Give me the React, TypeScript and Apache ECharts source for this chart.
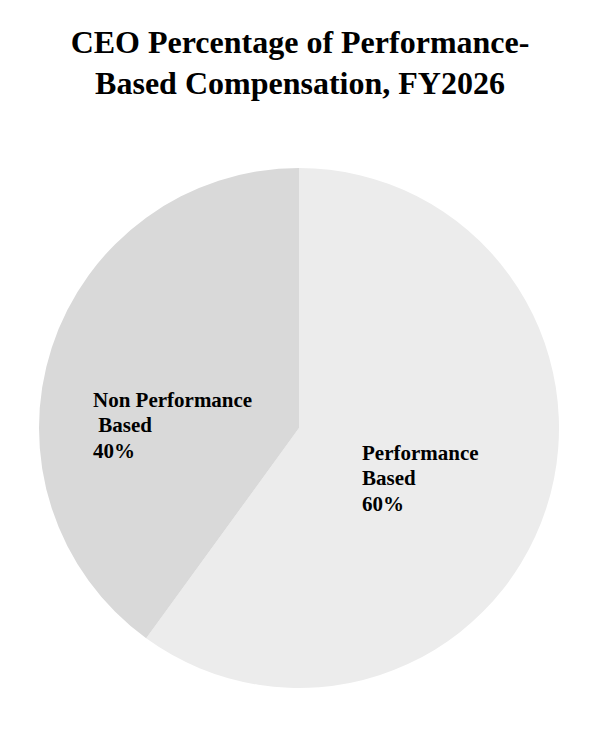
import React, { useEffect, useRef } from "react";
import * as echarts from "echarts";

const titleText = "CEO Percentage of Performance-\nBased Compensation, FY2026";
const categories = ["Performance\nBased", "Non Performance\n Based"];
const values = [60, 40];
const colors = ["#ececec", "#d9d9d9"];
const labelPos = [
  { x: 362, y: 440 },
  { x: 93, y: 387 },
];

export default function App() {
  const ref = useRef<HTMLDivElement>(null);
  useEffect(() => {
    if (!ref.current) return;
    const chart = echarts.init(ref.current, null, { renderer: "svg" });
    chart.setOption({
      animation: false,
      backgroundColor: "#ffffff",
      title: {
        text: titleText,
        left: "center",
        top: 16,
        textStyle: {
          fontFamily: "Liberation Serif",
          fontWeight: "bold",
          fontSize: 32,
          lineHeight: 41,
          color: "#000000",
        },
      },
      series: [
        {
          type: "pie",
          center: [299, 428],
          radius: [0, 260],
          startAngle: 90,
          clockwise: true,
          silent: true,
          data: categories.map((c, i) => ({
            name: c,
            value: values[i],
            itemStyle: { color: colors[i] },
          })),
          label: {
            show: true,
            position: "inside",
            formatter: (p: any) => `${p.name}\n${p.value}%`,
            fontFamily: "Liberation Serif",
            fontWeight: "bold",
            fontSize: 21,
            lineHeight: 25.5,
            color: "#000000",
            align: "left",
          },
          labelLayout: (params: any) => {
            const pos = labelPos[params.dataIndex];
            return { x: pos.x, y: pos.y, align: "left", verticalAlign: "top" };
          },
          labelLine: { show: false },
        },
      ],
    });
    return () => chart.dispose();
  }, []);
  return <div ref={ref} style={{ width: 600, height: 750, margin: -8 }} />;
}
